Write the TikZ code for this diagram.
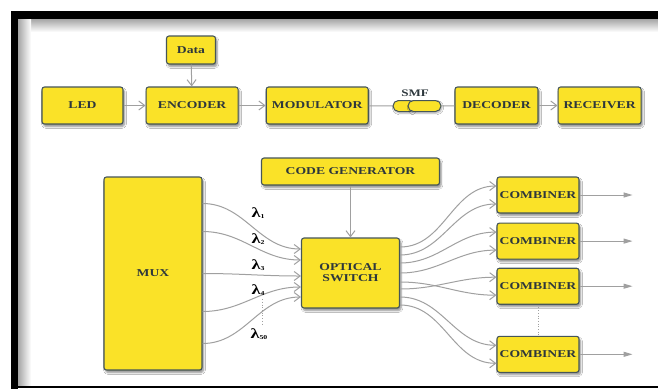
\documentclass[tikz,border=0pt]{standalone}
\usepackage{fontspec}
\setmainfont[FakeStretch=1.3]{Liberation Serif}
\usepackage{xcolor}
\usetikzlibrary{arrows.meta, positioning, shadows.blur}
\definecolor{boxyellow}{RGB}{250,226,40}
\definecolor{boxedge}{RGB}{70,86,88}
\definecolor{labelgray}{RGB}{45,55,60}
\definecolor{wiregray}{RGB}{160,160,160}
\newcommand{\lamsub}[1]{λ\raisebox{-1.5pt}{\fontsize{6}{6}\selectfont #1}}

\begin{document}
\begin{tikzpicture}[
		x=1pt, y=-1pt,
		font=\bfseries\fontsize{10.5}{11}\selectfont,
		block/.style={draw=boxedge, fill=boxyellow, line width=1.1pt, rounded corners=2.5pt,
			text=labelgray, inner sep=1pt, align=center,
			blur shadow={shadow xshift=1.5pt, shadow yshift=-2.5pt, shadow opacity=45, shadow blur steps=6}},
		capsule/.style={draw=boxedge, fill=boxyellow, line width=1pt, rounded corners=5.5pt,
			minimum height=11pt, inner sep=0pt,
			blur shadow={shadow xshift=1pt, shadow yshift=-1.5pt, shadow opacity=35}},
		lam/.style={text=black, font=\bfseries\fontsize{14}{14}\selectfont},
		arrow/.style={-{Straight Barb[length=6pt, width=9pt]}, line width=1pt, draw=wiregray},
		wire/.style={line width=1pt, draw=wiregray},
		outarrow/.style={-{Triangle[length=9pt, width=5pt]}, line width=1pt, draw=wiregray},
		dotline/.style={dotted, line width=0.7pt, draw=wiregray}
	]
		\useasboundingbox (0,0) rectangle (658,389);
		\fill[white] (0,0) rectangle (658,389);
		\shade[top color=black!35, bottom color=white] (18,19) rectangle (658,32);
		\shade[left color=black!35, right color=white] (18,19) rectangle (31,386);
		\fill[black] (11,11) rectangle (658,19);
		\fill[black] (11,11) rectangle (18,389);
		\fill[black] (11,386) rectangle (658,388);

		\node[block, minimum width=81pt, minimum height=37pt] (led) at (82.5,105.5) {LED};
		\node[block, minimum width=92pt, minimum height=37pt, right=22pt of led] (encoder) {ENCODER};
		\node[block, minimum width=102pt, minimum height=37pt, right=27pt of encoder] (modulator) {MODULATOR};
		\node[block, minimum width=49pt, minimum height=28pt] (data) at (191,50) {Data};
		\node[capsule, minimum width=22pt] (smfa) at (404,106) {};
		\node[capsule, minimum width=33pt] (smfb) at (424.5,106) {};
		\node[text=labelgray, font=\bfseries\fontsize{10}{10}\selectfont] (smf) at (415,93.5) {SMF};
		\node[block, minimum width=83pt, minimum height=37pt] (decoder) at (496.5,105.5) {DECODER};
		\node[block, minimum width=83pt, minimum height=37pt, right=19pt of decoder] (receiver) {RECEIVER};

		\draw[arrow] (data) -- (encoder);
		\draw[arrow] (led) -- (encoder);
		\draw[arrow] (encoder) -- (modulator);
		\draw[wire] (modulator) -- (smfa);
		\draw[wire] (smfb) -- (decoder);
		\draw[arrow] (decoder) -- (receiver);

		\node[block, minimum width=98pt, minimum height=193pt] (mux) at (153,273.5) {MUX};
		\node[block, minimum width=178pt, minimum height=27pt] (codegen) at (350.5,171.5) {CODE GENERATOR};
		\node[block, minimum width=98pt, minimum height=70pt] (switch) at (350.5,273) {OPTICAL\\SWITCH};
		\node[block, minimum width=82pt, minimum height=36pt] (comb1) at (538,195) {COMBINER};
		\node[block, minimum width=82pt, minimum height=36pt, below=9pt of comb1] (comb2) {COMBINER};
		\node[block, minimum width=82pt, minimum height=36pt, below=8pt of comb2] (comb3) {COMBINER};
		\node[block, minimum width=82pt, minimum height=36pt, below=31pt of comb3] (comb4) {COMBINER};

		\draw[arrow] (codegen) -- (switch);

		\foreach \a/\b in {70/24, 42/13, 0/-3, -38/-14, -70/-24}
			\draw[arrow] ([yshift=\a pt]mux.east) to[out=0, in=180] ([yshift=\b pt]switch.west);

		\node[lam] (lam1) at (258,213) {\lamsub{1}};
		\node[lam] (lam2) at (258,239) {\lamsub{2}};
		\node[lam] (lam3) at (258,265) {\lamsub{3}};
		\node[lam] (lam4) at (258,290) {\lamsub{4}};
		\node[lam] (lam50) at (259,334) {\lamsub{50}};
		\draw[dotline] ([xshift=4pt]lam4.south) -- ([xshift=3pt]lam50.north);

		\foreach \s/\c/\t in {26/comb1/9, 18/comb1/-9, 10/comb2/9, 0/comb2/-9,
				-9/comb3/-9, -16/comb3/9, -24/comb4/9, -32/comb4/-9}
			\draw[arrow] ([yshift=\s pt]switch.east) to[out=0, in=180] ([yshift=\t pt]\c.west);

		\draw[dotline] (comb3) -- (comb4);

		\foreach \i in {1,2,3,4} {
			\coordinate (out\i) at ([xshift=53pt]comb\i.east);
			\draw[outarrow] (comb\i) -- (out\i);
		}
	\end{tikzpicture}
\end{document}
